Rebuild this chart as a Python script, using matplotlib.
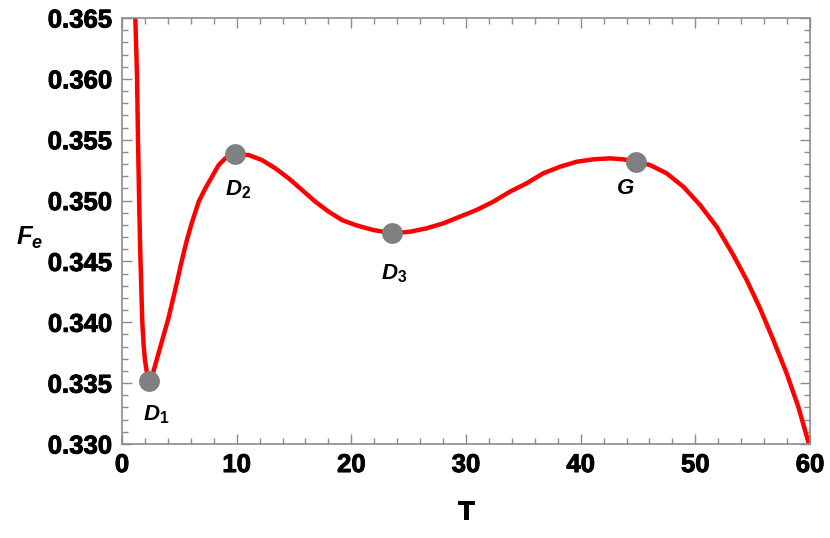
import matplotlib
matplotlib.use("Agg")
import matplotlib.pyplot as plt
import matplotlib.patheffects as pe
from matplotlib.ticker import MultipleLocator, FormatStrFormatter

# Data
T = [1.16, 1.31, 1.40, 1.51, 1.60, 1.77, 1.88, 2.0, 2.2, 2.38, 2.6, 3.02, 3.5, 4.04,
     4.6, 5.2, 5.67, 6.10, 6.69, 7.27, 7.85, 8.43, 9.01, 9.88, 11.05, 12.2, 13.37,
     14.53, 15.7, 16.86, 18.02, 19.19, 20.35, 21.92, 23.57, 25.11, 26.56, 28.02,
     29.47, 30.93, 32.38, 33.83, 35.29, 36.74, 38.2, 39.65, 41.1, 42.56, 43.72, 44.8,
     46.05, 47.5, 48.95, 50.41, 51.86, 53.31, 54.48, 55.64, 56.8, 57.96, 58.98, 59.85]
Fe = [0.36511, 0.36018, 0.35471, 0.34923, 0.34550, 0.34000, 0.33820, 0.33690, 0.33570,
      0.33520, 0.33550, 0.33690, 0.33850, 0.34030, 0.34250, 0.34500, 0.34680, 0.34820,
      0.34991, 0.35101, 0.35196, 0.35292, 0.35347, 0.35380, 0.35374, 0.35333, 0.35265,
      0.35183, 0.35087, 0.34991, 0.34909, 0.34840, 0.34799, 0.34758, 0.34731, 0.34744,
      0.34772, 0.34813, 0.34868, 0.34923, 0.34991, 0.35073, 0.35142, 0.35224, 0.35278,
      0.35319, 0.35339, 0.35347, 0.35339, 0.35319, 0.35292, 0.35224, 0.35114, 0.34964,
      0.34785, 0.34553, 0.34347, 0.34115, 0.33855, 0.33581, 0.33306, 0.33019]

pt_names = ["D_1", "D_2", "D_3", "G"]
pt_T = [2.38, 9.88, 23.57, 44.8]
pt_F = [0.3352, 0.3538, 0.3473, 0.35319]
lbl_T = [2.95, 10.1, 23.7, 43.9]
lbl_F = [0.3324, 0.3509, 0.3440, 0.3510]

x_ticks = [0, 10, 20, 30, 40, 50, 60]
y_ticks = [0.330, 0.335, 0.340, 0.345, 0.350, 0.355, 0.360, 0.365]

plt.rcParams['font.family'] = ['Liberation Sans', 'DejaVu Sans']
plt.rcParams['mathtext.fontset'] = 'custom'
plt.rcParams['mathtext.rm'] = 'Liberation Sans:bold'
plt.rcParams['mathtext.it'] = 'Liberation Sans:italic:bold'
plt.rcParams['mathtext.bf'] = 'Liberation Sans:bold'

fig = plt.figure(figsize=(8.3, 5.38), dpi=100)
ax = fig.add_axes([122/830, 1-444/538, 688/830, 426/538])

ax.plot(T, Fe, color='#ff0000', lw=3.2, solid_joinstyle='round', zorder=2)
ax.plot(pt_T, pt_F, 'o', color='#808080', ms=15, mec='none', zorder=3)

heavy = [pe.withStroke(linewidth=0.7, foreground='black')]

for name, tx, ty in zip(pt_names, lbl_T, lbl_F):
    if "_" in name:
        base, sub = name.split("_")
        s = r'$\mathit{%s}_{\mathrm{%s}}$' % (base, sub)
    else:
        s = r'$\mathit{%s}$' % name
    ax.text(tx, ty, s, fontsize=16, ha='center', va='center', color='black')

ax.set_xlim(0, 60)
ax.set_ylim(0.330, 0.365)
ax.set_xticks(x_ticks)
ax.set_yticks(y_ticks)
ax.xaxis.set_minor_locator(MultipleLocator(2))
ax.yaxis.set_minor_locator(MultipleLocator(0.001))
ax.yaxis.set_major_formatter(FormatStrFormatter('%.3f'))

frame_col = '#8c8c8c'
for sp in ax.spines.values():
    sp.set_color(frame_col)
    sp.set_linewidth(1.2)

ax.tick_params(which='both', direction='in', top=True, right=True, color=frame_col,
               width=1.0)
ax.tick_params(which='major', length=7.5, labelsize=18.5)
ax.tick_params(axis='x', which='major', pad=6.5)
ax.tick_params(axis='y', which='major', pad=7)
ax.tick_params(which='minor', length=4)
for lab in ax.get_xticklabels() + ax.get_yticklabels():
    lab.set_fontweight('bold')
    lab.set_path_effects(heavy)

ax.set_xlabel('T', fontsize=18.5, fontweight='bold')
ax.xaxis.set_label_coords(0.5, -0.131)
ax.xaxis.label.set_path_effects(heavy)
ax.set_ylabel(r'$\mathit{F}_{\mathit{e}}$', fontsize=18.5, rotation=0, ha='center', va='center')
ax.yaxis.set_label_coords(-0.134, 0.484)

fig.savefig('out.png', dpi=100)
